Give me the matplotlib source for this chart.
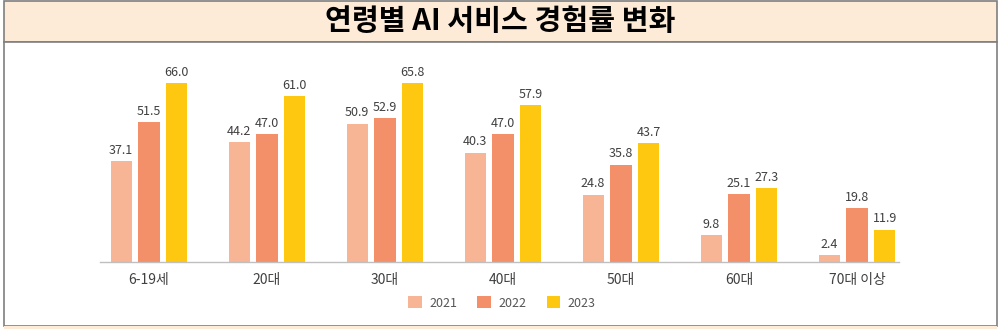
import matplotlib

matplotlib.use("Agg")
import matplotlib.pyplot as plt
from matplotlib.patches import Rectangle
import numpy as np

plt.rcParams["font.family"] = ["Noto Sans CJK KR", "DejaVu Sans"]

TITLE = "연령별 AI 서비스 경험률 변화"
groups = ["6-19세", "20대", "30대", "40대", "50대", "60대", "70대 이상"]
years = ["2021", "2022", "2023"]
v2021 = [37.1, 44.2, 50.9, 40.3, 24.8, 9.8, 2.4]
v2022 = [51.5, 47.0, 52.9, 47.0, 35.8, 25.1, 19.8]
v2023 = [66.0, 61.0, 65.8, 57.9, 43.7, 27.3, 11.9]
colors = ["#F8B596", "#F38F69", "#FEC810"]

W, H = 1000, 329
fig = plt.figure(figsize=(W / 100, H / 100), dpi=100)

# title band + frame (behind the axes)
for r in [
    Rectangle((0.004, 1 - 42 / H), 0.993, 41 / H, facecolor="#FDEBD8",
              edgecolor="#7f7f7f", linewidth=1.2),
    Rectangle((0.004, 3 / H), 0.993, 1 - 45 / H, facecolor="white",
              edgecolor="#7f7f7f", linewidth=1.2),
    Rectangle((0.004, 0), 0.993, 3 / H, facecolor="#FDEBD8", edgecolor="none"),
]:
    r.set_transform(fig.transFigure)
    r.set_zorder(-5)
    fig.patches.append(r)
fig.text(0.5, 1 - 21 / H, TITLE, ha="center", va="center", fontsize=21,
         fontweight="bold", color="black")

ax = fig.add_axes([100 / W, (H - 262) / H, 799 / W, 190 / H])
x = np.arange(len(groups))
bw = 0.178
step = 0.236
for i, (vals, c, lab) in enumerate(zip([v2021, v2022, v2023], colors, years)):
    bars = ax.bar(x + (i - 1) * step, vals, width=bw, color=c, label=lab)
    for b, v in zip(bars, vals):
        ax.text(b.get_x() + b.get_width() / 2, v + 1.6, f"{v:.1f}", ha="center",
                va="bottom", fontsize=9, color="#404040")

ax.set_xlim(-49 / 118, -49 / 118 + 799 / 118)
ax.set_ylim(0, 70)
ax.set_yticks([])
ax.set_xticks(x)
ax.set_xticklabels(groups, fontsize=10, color="#404040")
ax.tick_params(axis="x", length=0, pad=8)
for s in ["top", "right", "left"]:
    ax.spines[s].set_visible(False)
ax.spines["bottom"].set_color("#bfbfbf")
ax.spines["bottom"].set_linewidth(1.0)
ax.patch.set_alpha(0)

leg = fig.legend(loc="center", bbox_to_anchor=(502 / W, (H - 303) / H), ncol=3,
                 frameon=False, fontsize=9, handlelength=1.1, handleheight=1.1,
                 columnspacing=1.6, handletextpad=0.6)
for t in leg.get_texts():
    t.set_color("#555555")

fig.savefig("out.png", dpi=100)
